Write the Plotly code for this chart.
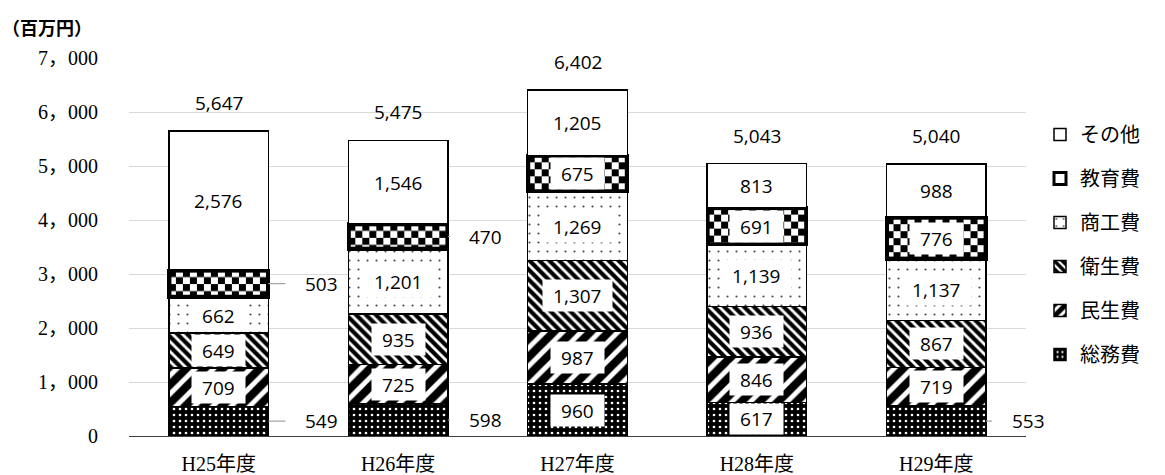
import base64
import plotly.graph_objects as go

# ---- data -------------------------------------------------------------
years = ["H25年度", "H26年度", "H27年度", "H28年度", "H29年度"]
series_names = ["総務費", "民生費", "衛生費", "商工費", "教育費", "その他"]
somu = [549, 598, 960, 617, 553]          # 総務費
minsei = [709, 725, 987, 846, 719]        # 民生費
eisei = [649, 935, 1307, 936, 867]        # 衛生費
shoko = [662, 1201, 1269, 1139, 1137]     # 商工費
kyoiku = [503, 470, 675, 691, 776]        # 教育費
sonota = [2576, 1546, 1205, 813, 988]     # その他
totals = [5647, 5475, 6402, 5043, 5040]
y_ticks = [0, 1000, 2000, 3000, 4000, 5000, 6000, 7000]

series_values = [somu, minsei, eisei, shoko, kyoiku, sonota]

# ---- layout constants ---------------------------------------------------
FIG_W, FIG_H = 1165, 475
M_L, M_R, M_T, M_B = 129, 139, 58, 39
PLOT_W = FIG_W - M_L - M_R
PLOT_H = FIG_H - M_T - M_B
Y_MAX = 7000
BAR_W = 0.555
X_POS = list(range(len(years)))

LABEL_FONT = dict(family="Open Sans, Noto Sans, sans-serif", size=19, color="#000000")
SERIF_FONT = "Liberation Serif, Noto Sans CJK JP, serif"

# fill styles per series
styles = {
    "総務費": dict(color="#000000", pattern=dict(shape=".", bgcolor="#000000", fgcolor="#ffffff",
                                               size=6, solidity=0.16, fgopacity=1)),
    "民生費": dict(color="#ffffff", pattern=dict(shape="/", bgcolor="#ffffff", fgcolor="#000000",
                                               size=13, solidity=0.62, fgopacity=1)),
    "衛生費": dict(color="#ffffff", pattern=dict(shape="\\", bgcolor="#ffffff", fgcolor="#000000",
                                               size=7, solidity=0.6, fgopacity=1)),
    "商工費": dict(color="#ffffff", pattern=dict(shape=".", bgcolor="#ffffff", fgcolor="#444444",
                                               size=9, solidity=0.045, fgopacity=1)),
    "教育費": dict(color="#ffffff"),
    "その他": dict(color="#ffffff"),
}
line_w = {"教育費": 3.0}

# offsets (px) of the outside labels, per category index
LEADER_DX = {0: 53, 1: 38, 2: 45, 3: 45, 4: 42}

fig = go.Figure()
for k, (name, vals) in enumerate(zip(series_names, series_values)):
    st = styles[name]
    marker = dict(color=st["color"], line=dict(color="#000000", width=line_w.get(name, 1.5)))
    if "pattern" in st:
        marker["pattern"] = st["pattern"]
    fig.add_trace(go.Bar(
        x=X_POS, y=vals, name=name, width=[BAR_W] * len(vals),
        marker=marker, legendgroup=name, legendrank=100 - k, hoverinfo="skip",
    ))


def text_width(s):
    return sum(5.0 if ch == "," else 10.9 for ch in s)


annotations = []
images = []
bases = [0] * len(years)
for name, vals in zip(series_names, series_values):
    for i, v in enumerate(vals):
        base = bases[i]
        mid = base + v / 2
        txt = f"{v:,}"
        seg_px = v * PLOT_H / Y_MAX
        if v < 600:
            annotations.append(dict(
                x=X_POS[i] + BAR_W / 2, y=mid, xref="x", yref="y", text=txt,
                showarrow=True, arrowhead=0, arrowwidth=1.2, arrowcolor="#a6a6a6",
                ax=LEADER_DX[i], ay=0, startstandoff=18, font=LABEL_FONT,
            ))
        else:
            annotations.append(dict(
                x=X_POS[i], y=mid, xref="x", yref="y", text=txt, showarrow=False,
                bgcolor="#ffffff", borderpad=0, width=text_width(txt) + 20,
                height=min(31, seg_px - 3), font=LABEL_FONT,
            ))
        if name == "教育費":
            pw = BAR_W * PLOT_W / len(years)
            ph = seg_px
            svg = (
                f"<svg xmlns='http://www.w3.org/2000/svg' width='{pw:.2f}' height='{ph:.2f}' "
                f"viewBox='0 0 {pw:.2f} {ph:.2f}' preserveAspectRatio='none'>"
                "<defs><pattern id='k' width='14' height='14' patternUnits='userSpaceOnUse'>"
                "<rect width='14' height='14' fill='#fff'/>"
                "<rect width='7' height='7' fill='#000'/>"
                "<rect x='7' y='7' width='7' height='7' fill='#000'/>"
                "</pattern></defs>"
                f"<rect x='1.25' y='1.25' width='{pw - 2.5:.2f}' height='{ph - 2.5:.2f}' "
                "fill='url(#k)' stroke='#000' stroke-width='2.5'/></svg>"
            )
            images.append(dict(
                source="data:image/svg+xml;base64," + base64.b64encode(svg.encode()).decode(),
                xref="x", yref="y", x=X_POS[i] - BAR_W / 2, y=base + v,
                sizex=BAR_W, sizey=v, xanchor="left", yanchor="top",
                sizing="stretch", layer="above",
            ))
        bases[i] += v

# totals above each column
for i, t in enumerate(totals):
    annotations.append(dict(
        x=X_POS[i], y=t, xref="x", yref="y", text=f"{t:,}", showarrow=False,
        yanchor="bottom", yshift=13, font=LABEL_FONT,
    ))

# unit caption, 27px below the top edge
annotations.append(dict(
    x=-M_L / PLOT_W, y=1 + (M_T - 27) / PLOT_H,
    xref="paper", yref="paper", text="（百万円）", showarrow=False,
    xanchor="left", yanchor="middle",
    font=dict(family="Noto Sans CJK JP", size=18, color="#000000", weight="bold"),
))

fig.update_layout(
    width=FIG_W, height=FIG_H,
    margin=dict(l=M_L, r=M_R, t=M_T, b=M_B, pad=0, autoexpand=False),
    paper_bgcolor="#ffffff", plot_bgcolor="#ffffff",
    barmode="stack",
    separators=".，",
    showlegend=True,
    legend=dict(
        x=(1040 - M_L) / PLOT_W, xanchor="left",
        y=1 - (115 - M_T) / PLOT_H, yanchor="top",
        traceorder="grouped", tracegroupgap=15,
        font=dict(family=SERIF_FONT, size=20, color="#000000"),
        bgcolor="rgba(0,0,0,0)", borderwidth=0,
    ),
    xaxis=dict(
        range=[-0.5, len(years) - 0.5], tickvals=X_POS, ticktext=years,
        showgrid=False, zeroline=False, showline=True, linecolor="#404040", linewidth=1.2,
        ticks="", ticklabelstandoff=10, automargin=False,
        tickfont=dict(family=SERIF_FONT, size=20, color="#000000"),
    ),
    yaxis=dict(
        range=[0, Y_MAX], tickvals=y_ticks, tickformat=",d", separatethousands=True,
        showgrid=True, gridcolor="#d9d9d9", gridwidth=1, zeroline=False, showline=False,
        ticks="", ticklabelstandoff=30, automargin=False,
        tickfont=dict(family=SERIF_FONT, size=20, color="#000000"),
    ),
    annotations=annotations,
    images=images,
)

fig.write_html("out.html")
